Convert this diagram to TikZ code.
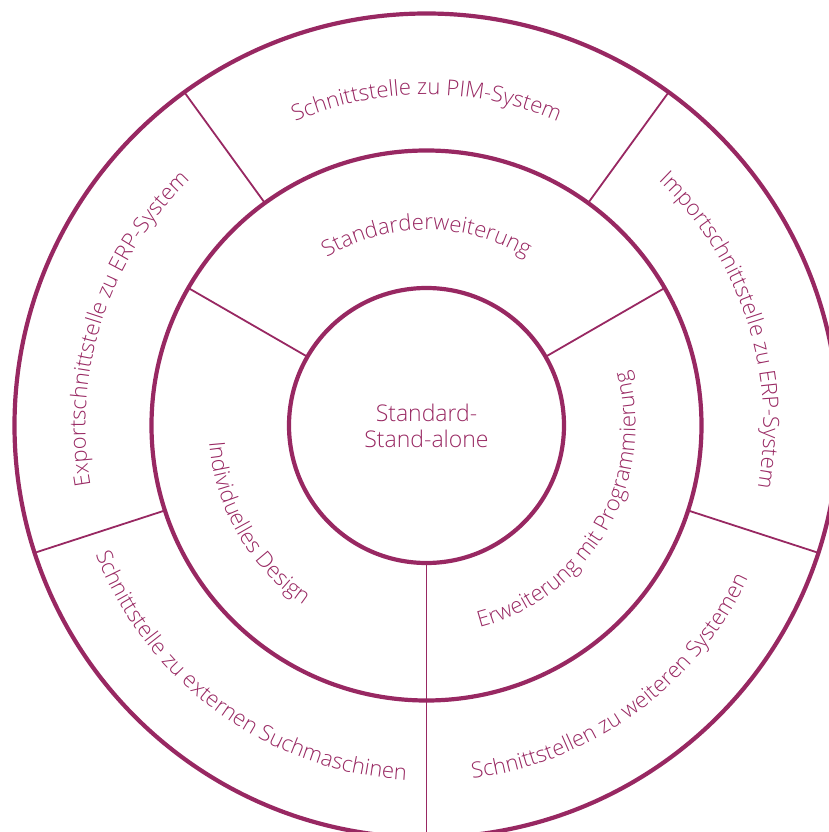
\documentclass[tikz,border=0pt]{standalone}
\usepackage{fontspec}
\setmainfont{Open Sans Light}
\usetikzlibrary{decorations.text}
\definecolor{pc}{RGB}{152,40,98}
\newcommand\arcfont{\fontsize{22}{26}\selectfont}
\begin{document}
\begin{tikzpicture}[x=1pt,y=1pt,
  ring/.style={circle, draw=pc, line width=4.2pt, outer sep=0pt, inner sep=0pt},
  spoke/.style={draw=pc, line width=1.8pt},
  arctext/.style={decorate, decoration={text along path, text align=center, text color=pc, text={|\arcfont|#1}}}
]
\useasboundingbox (-426.5,-406.5) rectangle (402.5,425.5);
\node[ring, minimum size=824pt] (outer) at (0,0) {};
\node[ring, minimum size=550pt] (mid) at (0,0) {};
\node[ring, minimum size=275pt, text=pc, align=center, font=\fontsize{23}{26}\selectfont] (inner) at (0,0) {Standard-\\Stand-alone};
\draw[spoke] (inner.30) -- (mid.30);
\draw[spoke] (inner.150) -- (mid.150);
\draw[spoke] (inner.270) -- (outer.270);
\draw[spoke] (mid.54) -- (outer.54);
\draw[spoke] (mid.126) -- (outer.126);
\draw[spoke] (mid.198) -- (outer.198);
\draw[spoke] (mid.342) -- (outer.342);
\path[arctext={Schnittstelle zu PIM-System}] (126:331pt) arc[start angle=126, end angle=54, radius=331pt];
\path[arctext={Exportschnittstelle zu ERP-System}] (198:341pt) arc[start angle=198, end angle=126, radius=341pt];
\path[arctext={Importschnittstelle zu ERP-System}] (54:337pt) arc[start angle=54, end angle=-18, radius=337pt];
\path[arctext={Schnittstelle zu externen Suchmaschinen}] (198:355pt) arc[start angle=198, end angle=270, radius=355pt];
\path[arctext={Schnittstellen zu weiteren Systemen}] (270:356pt) arc[start angle=270, end angle=342, radius=356pt];
\path[arctext={Standarderweiterung}] (150:195.5pt) arc[start angle=150, end angle=30, radius=195.5pt];
\path[arctext={Individuelles Design}] (150:218pt) arc[start angle=150, end angle=270, radius=218pt];
\path[arctext={Erweiterung mit Programmierung}] (270:209pt) arc[start angle=270, end angle=390, radius=209pt];
\end{tikzpicture}
\end{document}
